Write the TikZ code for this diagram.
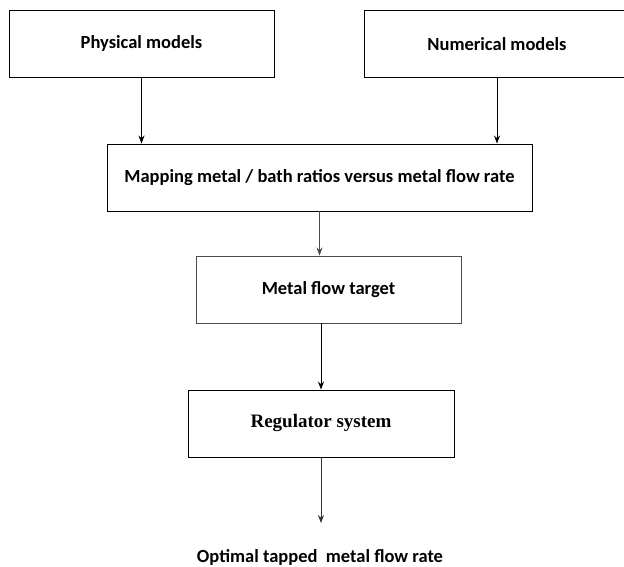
\documentclass[tikz,border=0pt]{standalone}
\usepackage{fontspec}
\setmainfont{Carlito}
\newfontfamily\regfont{Liberation Serif}
\usetikzlibrary{calc}
\usetikzlibrary{arrows.meta}

\begin{document}
\begin{tikzpicture}[x=1pt,y=-1pt]
	\tikzstyle{block}=[draw,line width=0.9pt,minimum width=265pt,minimum height=66.5pt,font=\fontsize{18.5}{22}\selectfont\bfseries]
	\tikzstyle{flow}=[->,>={Stealth[length=8pt,width=6pt]},line width=0.8pt]
	\clip (0,0) rectangle (624,567);
	\node[block] (phys) at (141.5,43.75) {Physical models};
	\node[block,minimum width=266pt] (num) at (497,43.75) {Numerical models};
	\node[block,minimum width=425pt,minimum height=67pt] (map) at (319.5,177.5) {Mapping metal / bath ratios versus metal flow rate};
	\node[block,draw=black!70,minimum height=67pt] (target) at (328.5,289.5) {Metal flow target};
	\node[block,minimum width=266pt,minimum height=67pt,font=\fontsize{19}{22}\selectfont\regfont\bfseries] (reg) at (321,423.5) {Regulator system};
	\node[font=\fontsize{18.5}{22}\selectfont\bfseries] (out) at (320,557) {Optimal tapped\ \ metal flow rate};
	\coordinate (end) at (321,523);
	% connectors
	\draw[flow] (phys) -- (phys |- map.north);
	\draw[flow] (num) -- (num |- map.north);
	\draw[flow,black!70] (map.south) -- (map.south |- target.north);
	\draw[flow] (reg.north |- target.south) -- (reg.north);
	\draw[flow,black!80] (reg) -- (end);
\end{tikzpicture}
\end{document}
